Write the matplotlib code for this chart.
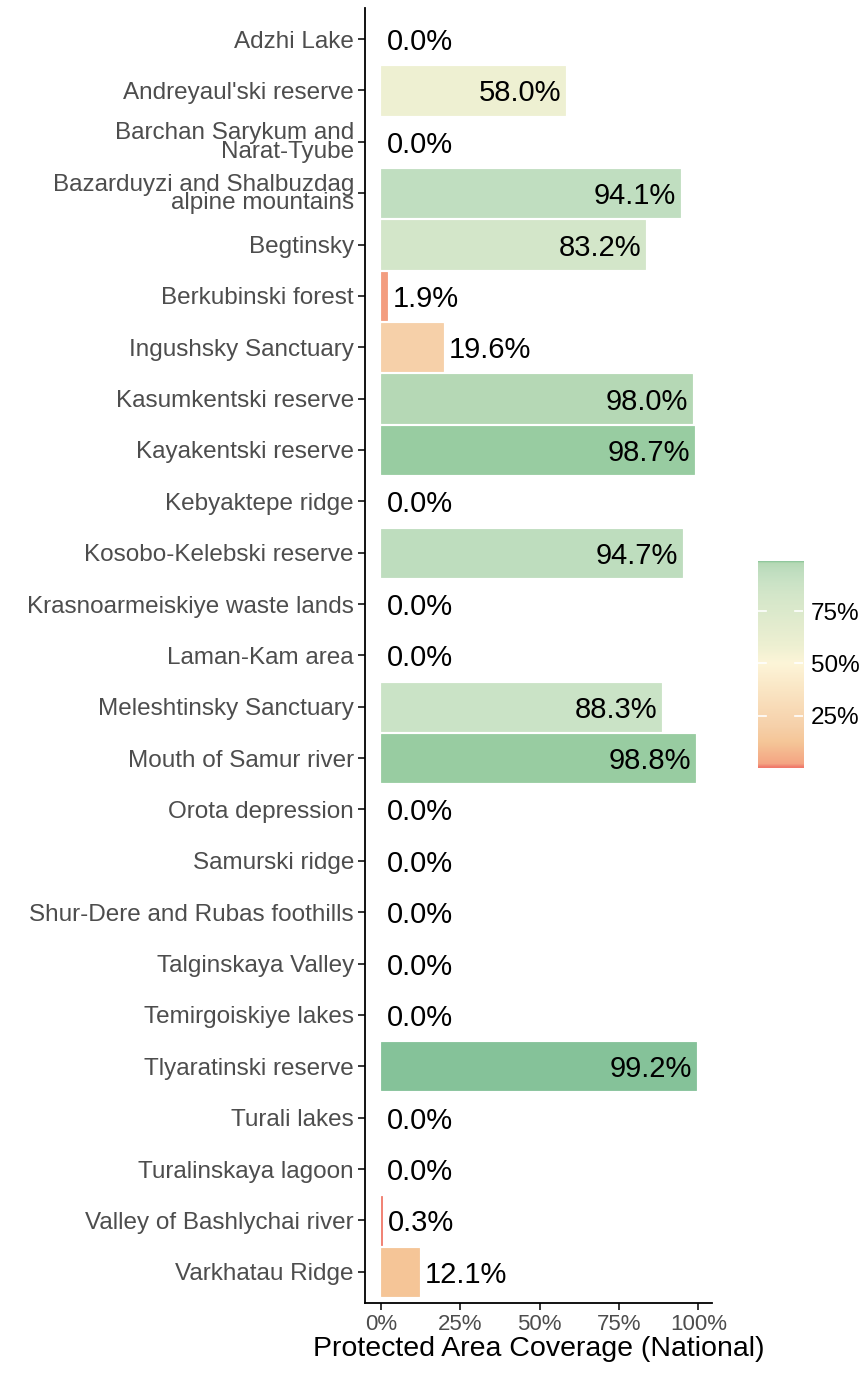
import numpy as np
import matplotlib.pyplot as plt
from matplotlib.colors import LinearSegmentedColormap, Normalize
from matplotlib.ticker import FuncFormatter

### Data
sites = ['Adzhi Lake', "Andreyaul'ski reserve", 'Barchan Sarykum and\nNarat-Tyube',
         'Bazarduyzi and Shalbuzdag\nalpine mountains', 'Begtinsky', 'Berkubinski forest',
         'Ingushsky Sanctuary', 'Kasumkentski reserve', 'Kayakentski reserve',
         'Kebyaktepe ridge', 'Kosobo-Kelebski reserve', 'Krasnoarmeiskiye waste lands',
         'Laman-Kam area', 'Meleshtinsky Sanctuary', 'Mouth of Samur river',
         'Orota depression', 'Samurski ridge', 'Shur-Dere and Rubas foothills',
         'Talginskaya Valley', 'Temirgoiskiye lakes', 'Tlyaratinski reserve',
         'Turali lakes', 'Turalinskaya lagoon', 'Valley of Bashlychai river',
         'Varkhatau Ridge']
coverage = [0.0, 58.0, 0.0, 94.1, 83.2, 1.9, 19.6, 98.0, 98.7, 0.0, 94.7, 0.0, 0.0,
            88.3, 98.8, 0.0, 0.0, 0.0, 0.0, 0.0, 99.2, 0.0, 0.0, 0.3, 12.1]

### Colour ramp
stops = [(0.000, '#f07a6a'), (0.003, '#f07f6e'), (0.019, '#f4a583'), (0.121, '#f5c698'),
         (0.196, '#f6d0a9'), (0.50, '#fdf5d8'), (0.58, '#eef0d2'), (0.832, '#d3e6c9'),
         (0.883, '#cbe3c6'), (0.941, '#c0dec0'), (0.980, '#b6d9b6'), (0.987, '#9ecfa3'),
         (0.992, '#85c299'), (1.0, '#78bb8e')]
cmap = LinearSegmentedColormap.from_list('cov', stops)
norm = Normalize(0, 1)

plt.rcParams['font.family'] = ['Liberation Sans', 'DejaVu Sans']

fig = plt.figure(figsize=(8.68, 13.74), dpi=100)
ax = fig.add_axes([0.4205, 0.052, 0.3995, 0.942])

vals = np.array(coverage) / 100.
ypos = np.arange(len(sites))
cols = cmap(norm(vals))
edges = [c if v > 0 else 'none' for c, v in zip(cols, vals)]
ax.barh(ypos, vals, height=0.94, color=cols, edgecolor=edges, linewidth=0.6, zorder=2)

for y, v in zip(ypos, vals):
    if v > 0.5:
        ax.text(v - 0.012, y, '%.1f%%' % (v * 100), ha='right', va='center_baseline',
                fontsize=21, color='black')
    else:
        ax.text(v + 0.018, y, '%.1f%%' % (v * 100), ha='left', va='center_baseline',
                fontsize=21, color='black')

ax.set_ylim(len(sites) - 0.4, -0.6)
ax.set_xlim(-0.0496, 1.042)
ax.set_yticks(ypos)
ax.set_yticklabels(sites, fontsize=17.5, color='#4d4d4d', linespacing=0.78)
ax.set_xticks([0, 0.25, 0.5, 0.75, 1.0])
ax.xaxis.set_major_formatter(FuncFormatter(lambda x, p: '%d%%' % round(x * 100)))
ax.tick_params(axis='x', labelsize=16, labelcolor='#4d4d4d', length=5, width=1.1, pad=3)
ax.tick_params(axis='y', length=5, width=1.1, pad=3)
ax.set_xlabel('Protected Area Coverage (National)', fontsize=20.5, labelpad=1)
for s in ['top', 'right']:
    ax.spines[s].set_visible(False)
for s in ['left', 'bottom']:
    ax.spines[s].set_linewidth(1.3)

### Colour bar
cax = fig.add_axes([0.873, 0.441, 0.052, 0.151])
grad = np.linspace(0, 0.992, 300).reshape(-1, 1)
cax.imshow(grad, aspect='auto', origin='lower', cmap=cmap, norm=norm,
           extent=[0, 1, 0, 0.992])
for t in [0.25, 0.5, 0.75]:
    cax.plot([0, 0.18], [t, t], color='white', lw=1.2)
    cax.plot([0.82, 1], [t, t], color='white', lw=1.2)
cax.set_xlim(0, 1)
cax.set_ylim(0, 0.992)
cax.set_xticks([])
cax.yaxis.tick_right()
cax.set_yticks([0.25, 0.5, 0.75])
cax.set_yticklabels(['25%', '50%', '75%'], fontsize=17.5)
cax.tick_params(axis='y', length=0, pad=6)
for s in cax.spines.values():
    s.set_visible(False)

plt.savefig('out.png', dpi=100)
